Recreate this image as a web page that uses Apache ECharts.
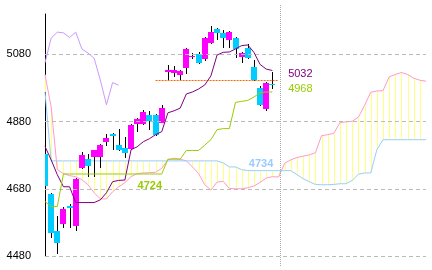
<!DOCTYPE html>
<html><head><meta charset="utf-8">
<script src="https://cdn.jsdelivr.net/npm/echarts@6/dist/echarts.min.js"></script>
<style>html,body{margin:0;padding:0;background:#fff}#c{width:432px;height:270px}</style>
</head><body><div id="c"></div>
<script>
// ---- data ----
const categories = ['0','1','2','3','4','5','6','7','8','9','10','11','12','13','14','15','16','17','18','19','20',
  '21','22','23','24','25','26','27','28','29','30','31','32','33','34','35','36','37','38','39','40','41','42',
  '43','44','45','46','47','48','49','50','51','52','53','54','55','56','57','58','59','60','61','62'];
const opens  = [4784,4665,4553,4576,4630,4568,4743,4769,4776,4776,4818,4843,4811,4801,4799,4873,4873,4899,4899,4877,
  5026,5025,5020,5040,5073,5081,5066,5115,5155,5143,5123,5128,5071,5099,5043,4980,4918,4992];
const closes = [4687,4548,4520,4621,4624,4710,4781,4749,4794,4811,4832,4838,4796,4786,4870,4888,4907,4883,4840,4921,
  5032,5034,5031,5096,5076,5055,5128,5146,5144,5130,5146,5096,5084,5068,5004,4930,4996,4988];
const lows   = [4683,4534,4487,4563,4563,4553,4739,4715,4715,4743,4806,4796,4793,4771,4796,4850,4870,4855,4837,4875,
  5002,5012,5004,5021,5065,5051,5061,5112,5123,5099,5099,5068,5054,5066,5002,4927,4910,4977];
const highs  = [4790,4668,4598,4627,4635,4713,4788,4784,4796,4814,4843,4846,4857,4835,4873,4891,4915,4910,4903,4929,
  5048,5046,5034,5099,5083,5087,5132,5164,5158,5152,5150,5132,5087,5111,5063,4986,4998,5028];
const tenkan = [4806,4766,4722,4686,4686,4639,4639,4639,4639,4647,4668,4701,4705,4706,4796,4805,4820,4829,4841,4850,
  4906,4912,4920,4962,4968,4977,4989,5016,5078,5086,5087,5096,5106,5108,5086,5050,5036,5032];
const kijun  = [4642,4627,4627,4724,4724,4724,4724,4724,4724,4724,4724,4724,4724,4724,4724,4724,4724,4724,4724,4724,
  4768,4768,4768,4794,4794,4794,4810,4826,4856,4859,4859,4937,4940,4943,4953,4966,4968,4968];
const senkouA = [5019,4924,4737,4725,4719,4716,4707,4692,4668,4650,4650,4671,4686,4698,4716,4725,4727,4728,4729,4741,
  4766,4771,4768,4763,4745,4725,4692,4676,4700,4702,4681,4680,4680,4683,4688,4699,4712,4716,4715,4756,
  4766,4773,4777,4781,4787,4838,4841,4845,4877,4879,4881,4893,4928,4967,4971,4972,5013,5020,5026,5020,5009,5003,5000];
const senkouB = [4968,4763,4763,4763,4763,4763,4763,4763,4763,4763,4763,4763,4763,4763,4763,4763,4763,4763,4763,4763,
  4763,4763,4763,4763,4763,4763,4763,4763,4763,4757,4745,4745,4737,4734,4734,4734,4734,4734,4734,4734,
  4734,4722,4710,4701,4693,4692,4692,4693,4695,4695,4705,4723,4727,4727,4796,4826,4826,4826,4826,4826,4826,4826,4826];
const chikouShift = 25;
const tickValues = [4480, 4680, 4880, 5080];
const gapLevel = 5002;
const gapStart = 18, todayIndex = 38;

// ---- chart ----
const FONT = 'Liberation Sans';
const UP = '#ff00ff', DOWN = '#00ccff';
const chart = echarts.init(document.getElementById('c'), null, {renderer: 'canvas'});
const wickRows = opens.map((o, i) => [i, lows[i], highs[i]]);
const bodyRows = opens.map((o, i) => [i, o, closes[i]]);
const chikou = closes.slice(chikouShift);
const cloudRows = categories.map((c, i) => [i, senkouA[i], senkouB[i]]);

function gridRect(params) {
  const cs = params.coordSys;
  return {x: cs.x, y: cs.y, width: cs.width, height: cs.height};
}
function lineSeries(name, data, color, z, extra) {
  return Object.assign({name, type: 'line', data, symbol: 'none', z, silent: true,
    lineStyle: {color, width: 1}, itemStyle: {color}}, extra || {});
}
function tag(idx, val, offset, color, bold) {
  return {coord: [categories[idx], val], value: val, symbol: 'circle', symbolSize: 1,
    itemStyle: {color: 'rgba(0,0,0,0)'},
    label: {show: true, position: 'inside', offset, color, fontSize: 11, fontFamily: FONT,
      fontWeight: bold ? 'bold' : 'normal', formatter: String(val)}};
}

const option = {
  animation: false,
  backgroundColor: '#ffffff',
  textStyle: {fontFamily: FONT},
  grid: {left: 45, right: 6, top: 14, bottom: 14},
  xAxis: {type: 'category', data: categories, boundaryGap: false, show: false},
  yAxis: {type: 'value', min: 4480, max: 5200, interval: 200,
    axisLine: {show: true, lineStyle: {color: '#000', width: 1}},
    axisTick: {show: false}, splitLine: {show: false},
    axisLabel: {color: '#000', fontSize: 11, fontFamily: FONT, margin: 14,
      formatter: v => tickValues.includes(v) ? String(v) : ''}},
  series: [
    {type: 'line', data: [], z: 0, silent: true,
      markLine: {silent: true, symbol: ['none', 'none'], label: {show: false}, animation: false,
        lineStyle: {color: '#bbbbbb', type: [4, 3], width: 1},
        data: tickValues.map(v => ({yAxis: v}))}},
    {type: 'custom', data: cloudRows, z: 1, silent: true, clip: true,
      encode: {x: 0, y: [1, 2]},
      renderItem: (params, api) => {
        const i = api.value(0);
        const p1 = api.coord([i, api.value(1)]);
        const p2 = api.coord([i, api.value(2)]);
        const x = Math.round(p1[0]) + 0.5;
        return {type: 'line', shape: {x1: x, y1: p1[1], x2: x, y2: p2[1]},
          style: {stroke: '#ffff80', lineWidth: 1}};
      }},
    lineSeries('senkouA', senkouA, '#ff99cc', 2),
    lineSeries('senkouB', senkouB, '#99ccff', 2, {
      markPoint: {silent: true, data: [tag(35, senkouB[37], [1, -7], '#99ccff', true)]}}),
    lineSeries('chikou', chikou, '#cc99ff', 2),
    {type: 'custom', data: wickRows, z: 3, silent: true, clip: true,
      encode: {x: 0, y: [1, 2]},
      renderItem: (params, api) => {
        const i = api.value(0);
        const pl = api.coord([i, api.value(1)]);
        const ph = api.coord([i, api.value(2)]);
        const x = Math.round(pl[0]) + 0.5;
        if (x < params.coordSys.x + 1) return null;
        return {type: 'line', shape: {x1: x, y1: Math.round(ph[1]), x2: x, y2: Math.round(pl[1])},
          style: {stroke: '#000000', lineWidth: 1}};
      }},
    {type: 'custom', data: bodyRows, z: 4, silent: true, clip: true,
      encode: {x: 0, y: [1, 2]},
      renderItem: (params, api) => {
        const i = api.value(0), o = api.value(1), c = api.value(2);
        const po = api.coord([i, o]);
        const pc = api.coord([i, c]);
        const w = 6;
        const x = Math.round(po[0] - w / 2);
        const top = Math.round(Math.min(po[1], pc[1]));
        const bot = Math.round(Math.max(po[1], pc[1]));
        const rect = echarts.graphic.clipRectByRect(
          {x, y: top, width: w, height: Math.max(1, bot - top)}, gridRect(params));
        if (!rect) return null;
        return {type: 'rect', shape: rect, style: {fill: c >= o ? UP : DOWN}};
      },
      markLine: {silent: true, symbol: ['none', 'none'], label: {show: false},
        lineStyle: {color: '#ff6600', type: [2, 1], width: 1},
        data: [[{coord: [gapStart, gapLevel]}, {coord: [todayIndex, gapLevel]}]]}},
    lineSeries('tenkan', tenkan, '#800080', 5, {
      markPoint: {silent: true, data: [tag(37, tenkan[37], [28, 4], '#800080', false)]}}),
    lineSeries('kijun', kijun, '#99cc00', 5, {
      markPoint: {silent: true, data: [
        tag(37, kijun[37], [28, -3], '#99cc00', false),
        tag(19, kijun[19], [-12, 11.5], '#99cc00', true)]}})
  ]
};
chart.setOption(option);
const xToday = chart.convertToPixel({xAxisIndex: 0}, categories[todayIndex]);
chart.setOption({graphic: [{type: 'line', silent: true, z: 10,
  shape: {x1: Math.round(xToday) + 1.5, y1: 5, x2: Math.round(xToday) + 1.5, y2: 266},
  style: {stroke: '#aaaaaa', lineWidth: 1, lineDash: [1, 1]}}]});
</script></body></html>
